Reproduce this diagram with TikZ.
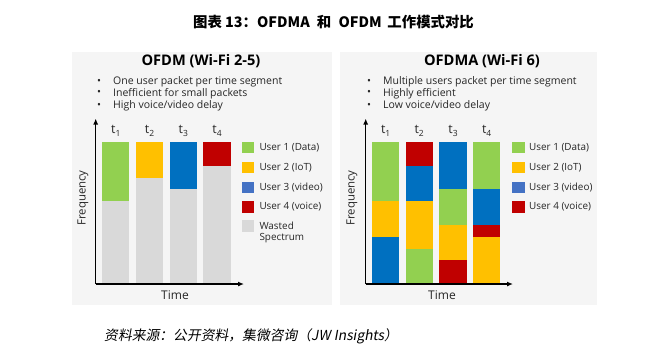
\documentclass[tikz,border=0pt]{standalone}
\usepackage{fontspec}
\setmainfont{Open Sans}
\newfontfamily\cjk{Noto Sans CJK SC}
\newfontfamily\cjkslant[FakeSlant=0.18]{Noto Sans CJK SC}
\usetikzlibrary{arrows.meta}
\definecolor{panelgray}{RGB}{245,245,245}
\definecolor{ugreen}{RGB}{146,208,80}
\definecolor{uyellow}{RGB}{255,192,0}
\definecolor{ublue}{RGB}{0,112,192}
\definecolor{ulblue}{RGB}{68,114,196}
\definecolor{ured}{RGB}{192,0,0}
\definecolor{ugray}{RGB}{217,217,217}
\definecolor{txt}{RGB}{38,38,38}
\tikzset{
  panel/.style={fill=panelgray,draw=none},
  ptitle/.style={font=\fontsize{14.6}{16}\selectfont\bfseries,text=black,inner sep=0pt},
  bul/.style={font=\fontsize{10.5}{12}\selectfont,text=txt,inner sep=0pt,anchor=west},
  axis/.style={line width=1.5pt,-{Latex[length=6pt,width=5pt]}},
  tlab/.style={font=\fontsize{12.5}{13}\selectfont,text=txt,inner sep=0pt},
  legsq/.style={minimum width=12.6pt,minimum height=11.8pt,inner sep=0pt,draw=none},
  legtx/.style={font=\fontsize{9.9}{11}\selectfont,text=txt,inner sep=0pt,anchor=west,align=left},
  axlab/.style={text=txt,inner sep=0pt},
}
\newcommand{\tsub}[1]{t\raisebox{-0.35ex}{\fontsize{8.5}{9}\selectfont #1}}
\begin{document}
\begin{tikzpicture}[x=1pt,y=-1pt]
\useasboundingbox (0,0) rectangle (660,362);
\fill[white] (0,0) rectangle (660,362);
% heading
\node[inner sep=0pt,font=\cjk\bfseries\fontsize{14.4}{16}\selectfont] (head) at (333.5,22) {图表 13：OFDMA\hspace{0.5em}和\hspace{0.5em}OFDM\hspace{0.4em}工作模式对比};
% panels
\fill[panel] (72,52) rectangle (332,305);
\fill[panel] (340,52) rectangle (597,305);
% ---------- left panel ----------
\node[ptitle] (lt) at (201,61) {OFDM (Wi-Fi 2-5)};
\node[bul] (lb1d) at (97,81.7) {•};
\node[bul] (lb2d) at (97,93.3) {•};
\node[bul] (lb3d) at (97,105.7) {•};
\node[bul] (lb1) at (113,81.7) {One user packet per time segment};
\node[bul] (lb2) at (113,93.3) {Inefficient for small packets};
\node[bul] (lb3) at (113,105.7) {High voice/video delay};
% bars
\fill[ugreen]  (102.3,142) rectangle (129.3,201.2);
\fill[ugray]   (102.3,201.2) rectangle (129.3,284);
\fill[uyellow] (136,142) rectangle (163,177.5);
\fill[ugray]   (136,177.5) rectangle (163,284);
\fill[ublue]   (170,142) rectangle (196.7,189.3);
\fill[ugray]   (170,189.3) rectangle (196.7,284);
\fill[ured]    (203.3,142) rectangle (230.7,165.7);
\fill[ugray]   (203.3,165.7) rectangle (230.7,284);
\node[tlab] (lt1) at (115.8,131) {\tsub{1}};
\node[tlab] (lt2) at (149.5,131) {\tsub{2}};
\node[tlab] (lt3) at (183.3,131) {\tsub{3}};
\node[tlab] (lt4) at (217,131) {\tsub{4}};
% axes
\coordinate (lo) at (95.7,284);
\coordinate (ly) at (95.7,118.5);
\coordinate (lx) at (244,284);
\draw[axis] (lo) -- (ly);
\draw[axis] (lo) -- (lx);
\node[axlab,font=\fontsize{11.4}{12}\selectfont,rotate=90] (lf) at (83,198) {Frequency};
\node[axlab,font=\fontsize{12}{13}\selectfont] (ltime) at (175,295.5) {Time};
% legend
\node[legsq,fill=ugreen]  (lq1) at (248,147.5) {};
\node[legsq,fill=uyellow] (lq2) at (248,167.5) {};
\node[legsq,fill=ulblue]  (lq3) at (248,187.5) {};
\node[legsq,fill=ured]    (lq4) at (248,207) {};
\node[legsq,fill=ugray]   (lq5) at (248,226.2) {};
\node[legtx] (ll1) at (259.3,147.5) {User 1 (Data)};
\node[legtx] (ll2) at (259.3,167.5) {User 2 (IoT)};
\node[legtx] (ll3) at (259.3,187.5) {User 3 (video)};
\node[legtx] (ll4) at (259.3,207) {User 4 (voice)};
\node[legtx,anchor=north west] (ll5) at (259.3,221.5) {Wasted\\Spectrum};
% ---------- right panel ----------
\node[ptitle] (rt) at (482,61) {OFDMA (Wi-Fi 6)};
\node[bul] (rb1d) at (367,81.7) {•};
\node[bul] (rb2d) at (367,93.3) {•};
\node[bul] (rb3d) at (367,105.7) {•};
\node[bul] (rb1) at (383,81.7) {Multiple users packet per time segment};
\node[bul] (rb2) at (383,93.3) {Highly efficient};
\node[bul] (rb3) at (383,105.7) {Low voice/video delay};
% bar 1
\fill[ugreen]  (372.3,142) rectangle (399,201.17);
\fill[uyellow] (372.3,201.17) rectangle (399,236.67);
\fill[ublue]   (372.3,236.67) rectangle (399,284);
% bar 2
\fill[ured]    (405.7,142) rectangle (432.7,165.67);
\fill[ublue]   (405.7,165.67) rectangle (432.7,201.17);
\fill[uyellow] (405.7,201.17) rectangle (432.7,248.5);
\fill[ugreen]  (405.7,248.5) rectangle (432.7,284);
% bar 3
\fill[ublue]   (439.3,142) rectangle (466.7,189.33);
\fill[ugreen]  (439.3,189.33) rectangle (466.7,224.83);
\fill[uyellow] (439.3,224.83) rectangle (466.7,260.33);
\fill[ured]    (439.3,260.33) rectangle (466.7,284);
% bar 4
\fill[ugreen]  (473.3,142) rectangle (500,189.33);
\fill[ublue]   (473.3,189.33) rectangle (500,224.83);
\fill[ured]    (473.3,224.83) rectangle (500,236.67);
\fill[uyellow] (473.3,236.67) rectangle (500,284);
\node[tlab] (rt1) at (385.7,131) {\tsub{1}};
\node[tlab] (rt2) at (419.2,131) {\tsub{2}};
\node[tlab] (rt3) at (453,131) {\tsub{3}};
\node[tlab] (rt4) at (486.7,131) {\tsub{4}};
\coordinate (ro) at (365.7,284);
\coordinate (ry) at (365.7,118.5);
\coordinate (rx) at (513,284);
\draw[axis] (ro) -- (ry);
\draw[axis] (ro) -- (rx);
\node[axlab,font=\fontsize{11.4}{12}\selectfont,rotate=90] (rf) at (352,198) {Frequency};
\node[axlab,font=\fontsize{12}{13}\selectfont] (rtime) at (442,295.5) {Time};
\node[legsq,fill=ugreen]  (rq1) at (518.5,147.5) {};
\node[legsq,fill=uyellow] (rq2) at (518.5,167.5) {};
\node[legsq,fill=ulblue]  (rq3) at (518.5,187.5) {};
\node[legsq,fill=ured]    (rq4) at (518.5,207) {};
\node[legtx] (rl1) at (529,147.5) {User 1 (Data)};
\node[legtx] (rl2) at (529,167.5) {User 2 (IoT)};
\node[legtx] (rl3) at (529,187.5) {User 3 (video)};
\node[legtx] (rl4) at (529,207) {User 4 (voice)};
% source
\node[inner sep=0pt,anchor=west,font=\cjkslant\fontsize{13.8}{15}\selectfont] (src) at (104,336) {资料来源：公开资料，集微咨询（JW Insights）};
\end{tikzpicture}
\end{document}
